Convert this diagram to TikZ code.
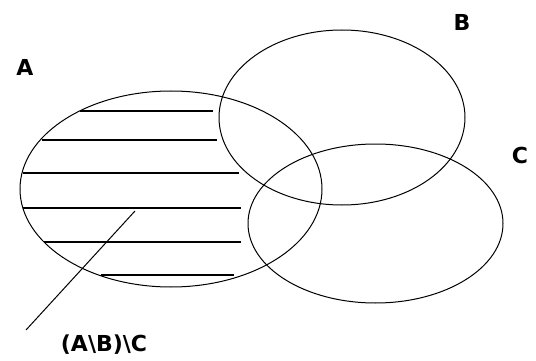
\documentclass[tikz,border=0pt]{standalone}
\usepackage{fontspec}
\setmainfont{DejaVu Sans}
\usetikzlibrary{shapes.geometric}
\begin{document}
\begin{tikzpicture}[x=1pt,y=-1pt,
  setell/.style={draw=black, line width=1pt, ellipse, inner sep=0pt},
  hatch/.style={draw=black, line width=1.2pt},
  lbl/.style={font=\bfseries\fontsize{22}{24}\selectfont, inner sep=0pt}]
\useasboundingbox (0,0) rectangle (536,361);
\fill[white] (0,0) rectangle (536,361);
\node[setell, minimum width=302pt, minimum height=196pt] (A) at (171,189) {};
\node[setell, minimum width=246pt, minimum height=175pt] (B) at (342,117.5) {};
\node[setell, minimum width=255pt, minimum height=159pt] (C) at (375.5,223.5) {};
\foreach \ya/\xa/\xb in {111/80/213, 140/42/217, 173/23/239, 208/23/241, 242/44/241, 275/101/234}
  \draw[hatch] (\xa,\ya) -- (\xb,\ya);
\node[lbl] (la) at (25,67) {A};
\node[lbl] (lb) at (462,22) {B};
\node[lbl] (lc) at (520,155) {C};
\node[lbl] (ldiff) at (104,345) {(A\textbackslash B)\textbackslash C};
\coordinate (ptA) at (135,211);
\coordinate (ptB) at (26,330);
\draw[line width=1pt] (ptA) -- (ptB);
\end{tikzpicture}
\end{document}
